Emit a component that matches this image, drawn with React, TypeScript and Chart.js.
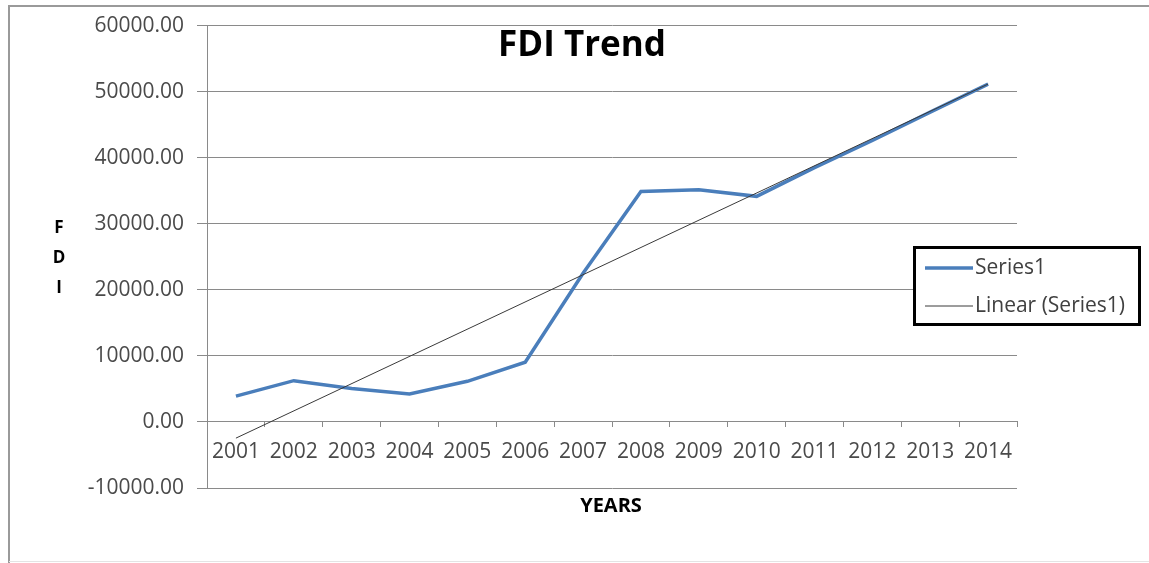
import React, { useEffect, useRef } from "react";
import { Chart, registerables } from "chart.js";

Chart.register(...registerables);

// Years on the category axis
const years = ["2001", "2002", "2003", "2004", "2005", "2006", "2007", "2008", "2009", "2010", "2011", "2012", "2013", "2014"];

// FDI inflows per year
const fdiValues = [3900, 6250, 5050, 4250, 6150, 9050, 22500, 34900, 35150, 34150, 38500, 42600, 46900, 51150];

// Linear trendline: its value at the first and the last year
const trendValues: (number | null)[] = [-2450, null, null, null, null, null, null, null, null, null, null, null, null, 51150];

// Value axis ticks
const yMin = -10000;
const yMax = 60000;
const yStep = 10000;

const FONT = "'Open Sans', 'Liberation Sans', sans-serif";
const SERIES_BLUE = "#4a7ebb";
const TREND_GRAY = "#3a3a3a";
const GRID_GRAY = "#8a8a8a";
const TEXT_GRAY = "#4a4a4a";

const decorPlugin = {
  id: "decor",
  beforeDraw(chart: any) {
    const { ctx, width, height } = chart;
    ctx.save();
    ctx.fillStyle = "#ffffff";
    ctx.fillRect(0, 0, width, height);
    // outer frame
    ctx.strokeStyle = "#9a9a9a";
    ctx.lineWidth = 2;
    ctx.beginPath();
    ctx.moveTo(9, height);
    ctx.lineTo(9, 6);
    ctx.lineTo(width, 6);
    ctx.stroke();
    ctx.strokeStyle = "#e4e4e4";
    ctx.lineWidth = 1;
    ctx.beginPath();
    ctx.moveTo(9, 561.5);
    ctx.lineTo(width, 561.5);
    ctx.stroke();
    ctx.restore();
  },
  afterDraw(chart: any) {
    const { ctx } = chart;
    ctx.save();
    // title
    ctx.fillStyle = "#000000";
    ctx.font = `bold 35px ${FONT}`;
    ctx.textAlign = "center";
    ctx.textBaseline = "middle";
    ctx.fillText("FDI Trend", 582, 46);

    // axis titles
    ctx.font = `bold 20px ${FONT}`;
    ctx.fillText("YEARS", 611, 506);
    ctx.font = `bold 17px ${FONT}`;
    ["F", "D", "I"].forEach((ch, i) => ctx.fillText(ch, 59, 228 + i * 30));

    // legend
    const bx = 913, by = 246, bw = 228, bh = 80;
    ctx.fillStyle = "#ffffff";
    ctx.fillRect(bx, by, bw, bh);
    ctx.strokeStyle = "#000000";
    ctx.lineWidth = 3;
    ctx.strokeRect(bx + 1.5, by + 1.5, bw - 3, bh - 3);
    const ds = chart.data.datasets;
    const rows = [ds[0], ds[1]];
    rows.forEach((d: any, i: number) => {
      const y = 268 + i * 38;
      ctx.strokeStyle = d.borderColor;
      ctx.lineWidth = d.borderWidth;
      ctx.beginPath();
      ctx.moveTo(925, y);
      ctx.lineTo(973, y);
      ctx.stroke();
      ctx.fillStyle = "#404040";
      ctx.font = `21px ${FONT}`;
      ctx.textAlign = "left";
      ctx.textBaseline = "middle";
      ctx.fillText(d.label, 975, y);
    });
    ctx.restore();
  },
};

export default function App() {
  const canvasRef = useRef<HTMLCanvasElement | null>(null);

  useEffect(() => {
    const canvas = canvasRef.current;
    if (!canvas) return;
    const chart = new Chart(canvas, {
      type: "line",
      data: {
        labels: years,
        datasets: [
          {
            label: "Series1",
            data: fdiValues,
            borderColor: SERIES_BLUE,
            backgroundColor: SERIES_BLUE,
            borderWidth: 3.5,
            pointRadius: 0,
            tension: 0,
            order: 1,
          },
          {
            label: "Linear (Series1)",
            data: trendValues,
            borderColor: TREND_GRAY,
            backgroundColor: TREND_GRAY,
            borderWidth: 1,
            pointRadius: 0,
            spanGaps: true,
            tension: 0,
            order: 0,
          },
        ],
      },
      options: {
        responsive: false,
        animation: false,
        events: [],
        layout: { padding: { left: 0, top: 21, right: 132, bottom: 75 } },
        plugins: {
          legend: { display: false },
          title: { display: false },
          tooltip: { enabled: false },
        },
        scales: {
          y: {
            position: "left",
            min: yMin,
            max: yMax,
            ticks: {
              stepSize: yStep,
              padding: 13,
              color: TEXT_GRAY,
              font: { family: FONT, size: 21 },
              callback: (v: any) => Number(v).toFixed(2),
            },
            grid: { color: GRID_GRAY, lineWidth: 1, tickLength: 10, drawTicks: true },
            border: { display: true, color: GRID_GRAY, width: 1 },
            afterFit: (scale: any) => {
              scale.width = 207;
            },
          },
          x: {
            type: "category",
            position: { y: 0 },
            offset: true,
            ticks: {
              autoSkip: false,
              maxRotation: 0,
              minRotation: 0,
              padding: 12,
              color: TEXT_GRAY,
              font: { family: FONT, size: 21 },
            },
            grid: { display: true, drawOnChartArea: false, drawTicks: true, tickLength: 5, offset: true, color: GRID_GRAY },
            border: { display: true, color: GRID_GRAY, width: 1 },
            afterFit: (scale: any) => {
              scale.height = 0;
            },
          },
        },
      } as any,
      plugins: [decorPlugin],
    });
    return () => chart.destroy();
  }, []);

  return (
    <div style={{ position: "fixed", left: 0, top: 0, width: 1149, height: 563, background: "#ffffff" }}>
      <canvas ref={canvasRef} width={1149} height={563} style={{ display: "block" }} />
    </div>
  );
}
